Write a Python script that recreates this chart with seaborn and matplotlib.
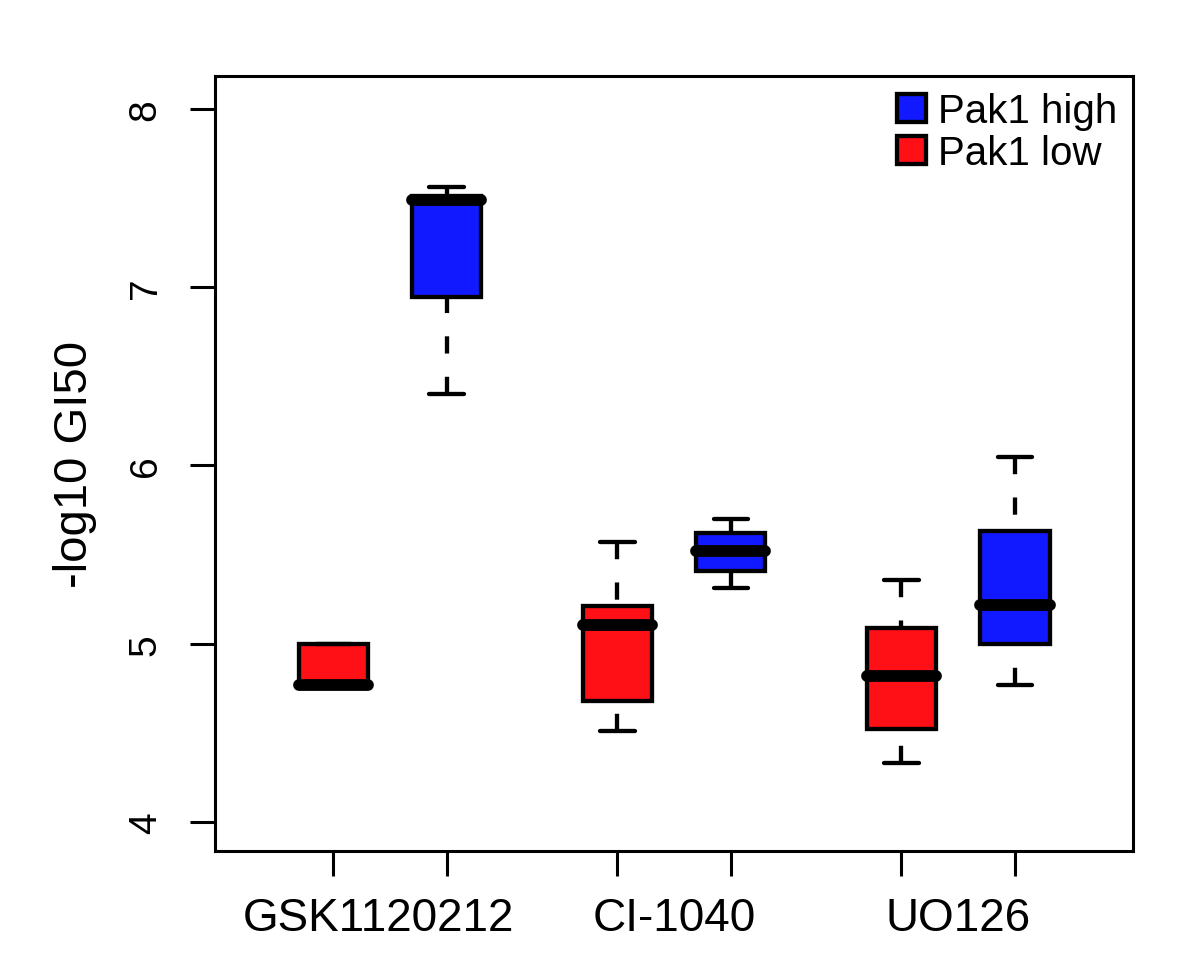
import numpy as np
import pandas as pd
import matplotlib
matplotlib.use('Agg')
import matplotlib.pyplot as plt
import matplotlib.transforms as mtransforms
import seaborn as sns
from matplotlib.patches import Patch

# --- DATA: five-number summaries (min, Q1, median, Q3, max) ---
drugs = ['GSK1120212', 'CI-1040', 'UO126']
groups = ['Pak1 low', 'Pak1 high']
legend_order = ['Pak1 high', 'Pak1 low']

gsk_low = [4.77, 4.77, 4.77, 5.00, 5.00]
gsk_high = [6.40, 6.945, 7.49, 7.51, 7.56]
ci_low = [4.51, 4.68, 5.105, 5.21, 5.57]
ci_high = [5.31, 5.41, 5.52, 5.62, 5.70]
uo_low = [4.33, 4.52, 4.82, 5.09, 5.36]
uo_high = [4.77, 5.00, 5.22, 5.63, 6.05]

colors = {'Pak1 low': '#FF1017', 'Pak1 high': '#1019FF'}
y_ticks = [4, 5, 6, 7, 8]

# --- TABLE ---
values = {
    ('GSK1120212', 'Pak1 low'): gsk_low,
    ('GSK1120212', 'Pak1 high'): gsk_high,
    ('CI-1040', 'Pak1 low'): ci_low,
    ('CI-1040', 'Pak1 high'): ci_high,
    ('UO126', 'Pak1 low'): uo_low,
    ('UO126', 'Pak1 high'): uo_high,
}
rows = []
for (drug, grp), vals in values.items():
    for v in vals:
        rows.append((drug, grp, v))
df = pd.DataFrame(rows, columns=['drug', 'group', 'gi50'])

# --- PLOT ---
sns.set_theme(style='white')
plt.rcParams['font.family'] = ['Liberation Sans', 'DejaVu Sans']
plt.rcParams['text.color'] = 'black'
plt.rcParams['axes.labelcolor'] = 'black'
plt.rcParams['xtick.color'] = 'black'
plt.rcParams['ytick.color'] = 'black'

fig = plt.figure(figsize=(12, 9.79), dpi=100)
ax = fig.add_axes([0.1792, 0.1297, 0.765, 0.7916])

sns.boxplot(data=df, x='drug', y='gi50', hue='group', order=drugs,
            hue_order=groups, palette=colors, saturation=1, width=0.8,
            gap=0.39, whis=(0, 100), linecolor='black', linewidth=3.1,
            legend=False, ax=ax,
            medianprops=dict(linewidth=8.5, solid_capstyle='round'),
            whiskerprops=dict(linestyle=(0, (4.0, 5.4))))

# R draws dashed whiskers starting from the cap end
for ln in ax.lines:
    if ln.get_linestyle() not in ('-', 'None', ''):
        xd, yd = ln.get_data()
        ln.set_data(np.asarray(xd)[::-1], np.asarray(yd)[::-1])

ax.set_xlim(-0.616, 2.616)
ax.set_ylim(3.837, 8.185)

# ticks under each box, group names in between
box_pos = [i + off for i in range(len(drugs)) for off in (-0.2, 0.2)]
ax.set_xticks(box_pos, labels=[''] * len(box_pos))
ax.set_xlabel('')
trans = mtransforms.blended_transform_factory(ax.transData, ax.transAxes)
label_shift = [-0.04, 0, 0]
for i, name in enumerate(drugs):
    ax.text(i + label_shift[i], -0.102, name, transform=trans, ha='center',
            va='baseline', fontsize=33, color='black')

ax.set_yticks(y_ticks)
ax.set_yticklabels([str(t) for t in y_ticks], rotation=90, fontsize=28,
                   color='black')
for lab in ax.get_yticklabels():
    lab.set_va('center')
ax.tick_params(axis='both', direction='out', length=18, width=2.2,
               color='black', left=True, bottom=True)
ax.tick_params(axis='y', pad=19)

ax.set_ylabel('-log10 GI50', fontsize=34, color='black')
ax.yaxis.set_label_coords(-0.1285, 0.5)

for sp in ax.spines.values():
    sp.set_visible(True)
    sp.set_color('black')
    sp.set_linewidth(2.2)

handles = [Patch(facecolor=colors[g], edgecolor='black', linewidth=3.1, label=g)
           for g in legend_order]
leg = ax.legend(handles=handles, loc='upper right', bbox_to_anchor=(1, 1),
                frameon=False, fontsize=29, handlelength=0.72,
                handleheight=0.72, handletextpad=0.3, labelspacing=0.1,
                borderaxespad=0.2, borderpad=0.2)
for t in leg.get_texts():
    t.set_color('black')

fig.savefig('out.png', dpi=100)
plt.close()
